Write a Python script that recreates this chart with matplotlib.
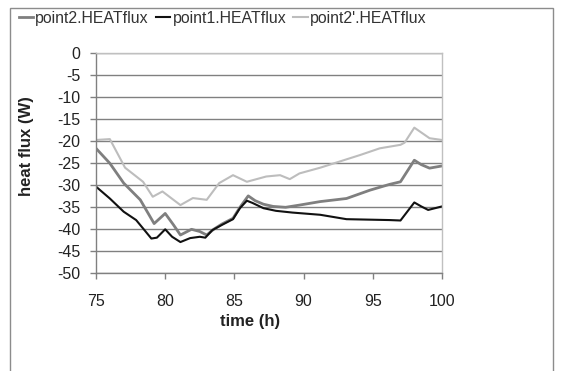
import matplotlib
matplotlib.use("Agg")
import matplotlib.pyplot as plt
from matplotlib.patches import Rectangle

plt.rcParams['font.family'] = ['Liberation Sans', 'DejaVu Sans']

# --- data ---
t_p2 = [75, 76, 77, 77.6, 78.2, 78.7, 79.2, 80.0, 80.6, 81.1, 81.9, 82.5, 83.0, 83.5,
        84.1, 84.9, 85.4, 86.0, 86.5, 87.1, 87.8, 88.7, 89.7, 91.2, 93.1, 94.8, 96.2,
        97.0, 98.0, 98.5, 99.1, 100]
p2 = [-21.6, -25.0, -29.5, -31.4, -33.3, -36.0, -38.7, -36.4, -39.0, -41.3, -40.0, -40.5,
      -41.3, -40.0, -38.8, -37.5, -35.0, -32.4, -33.5, -34.3, -34.8, -35.0, -34.5, -33.7,
      -33.0, -31.1, -29.8, -29.2, -24.3, -25.3, -26.1, -25.6]

t_p1 = [75, 76.0, 77.0, 77.9, 78.4, 79.0, 79.4, 80.0, 80.5, 81.1, 81.8, 82.5, 82.9, 83.4,
        84.1, 84.9, 85.4, 85.9, 86.3, 87.1, 88.0, 89.2, 91.2, 93.1, 96.2, 97.0, 98.0,
        98.5, 99.0, 100]
p1 = [-30.3, -33.0, -36.0, -37.9, -39.8, -42.1, -41.9, -40.0, -41.7, -42.9, -42.0, -41.7,
      -41.9, -40.2, -39.0, -37.7, -35.2, -33.5, -34.0, -35.2, -35.8, -36.2, -36.7, -37.7,
      -37.9, -38.0, -33.9, -34.8, -35.6, -34.8]

t_p2b = [75, 76.0, 77.1, 78.4, 79.1, 79.8, 81.1, 82.0, 83.0, 83.9, 84.9, 85.9, 87.3,
         88.3, 89.0, 89.7, 91.2, 92.6, 94.1, 95.5, 97.0, 97.3, 98.0, 99.1, 100]
p2b = [-19.7, -19.5, -26.0, -29.2, -32.6, -31.4, -34.5, -32.9, -33.3, -29.5, -27.7, -29.2,
       -28.0, -27.7, -28.6, -27.3, -26.0, -24.6, -23.1, -21.6, -20.8, -20.3, -16.9, -19.3,
       -19.7]

labels = ["point2.HEATflux", "point1.HEATflux", "point2'.HEATflux"]
xticks = [75, 80, 85, 90, 95, 100]
yticks = list(range(0, -55, -5))

W, H = 564, 371
fig = plt.figure(figsize=(W / 100, H / 100), dpi=100)
fig.patch.set_facecolor('white')

# outer chart frame
fig.patches.append(Rectangle((10 / W, -0.05), (553 - 10) / W, 1.05 - 8 / H,
                             transform=fig.transFigure, fill=False,
                             edgecolor='#8c8c8c', linewidth=1.0))

ax = fig.add_axes([96 / W, 1 - 273.3 / H, (442 - 96) / W, (273.3 - 53.3) / H])

l2, = ax.plot(t_p2, p2, color='#7f7f7f', lw=2.0, label=labels[0])
l1, = ax.plot(t_p1, p1, color='#111111', lw=1.5, label=labels[1])
l3, = ax.plot(t_p2b, p2b, color='#bdbdbd', lw=1.5, label=labels[2])

ax.set_xlim(75, 100)
ax.set_ylim(-50, 0)
ax.set_xticks(xticks)
ax.set_yticks(yticks)
ax.set_yticklabels([str(v) for v in yticks])
ax.yaxis.grid(True, color='#808080', lw=1.0)
ax.set_axisbelow(True)

for s in ['top', 'right']:
    ax.spines[s].set_color('#c0c0c0')
    ax.spines[s].set_linewidth(1.0)
for s in ['left', 'bottom']:
    ax.spines[s].set_color('#808080')
    ax.spines[s].set_linewidth(1.0)

ax.tick_params(axis='both', direction='out', length=4, width=1, color='#808080',
               labelsize=11.5, labelcolor='#222222')
ax.tick_params(axis='x', pad=11)
ax.tick_params(axis='y', pad=7)

ax.set_xlabel('time (h)', fontsize=12, fontweight='bold', color='#222222')
ax.xaxis.set_label_coords((250 - 96) / (442 - 96), -(314 - 273.3) / 220)
ax.set_ylabel('heat flux (W)', fontsize=12, fontweight='bold', color='#222222')
ax.yaxis.set_label_coords(-(96 - 34) / 346, (273.3 - 146) / 220)

fig.legend(handles=[l2, l1, l3], labels=labels, loc='center left',
           bbox_to_anchor=(9 / W, 1 - 18 / H), ncol=3, frameon=False,
           fontsize=11.4, handlelength=0.9, handletextpad=0.15, columnspacing=0.45,
           borderpad=0.1, labelcolor='#333333')

fig.savefig('out.png', dpi=100, facecolor='white')
